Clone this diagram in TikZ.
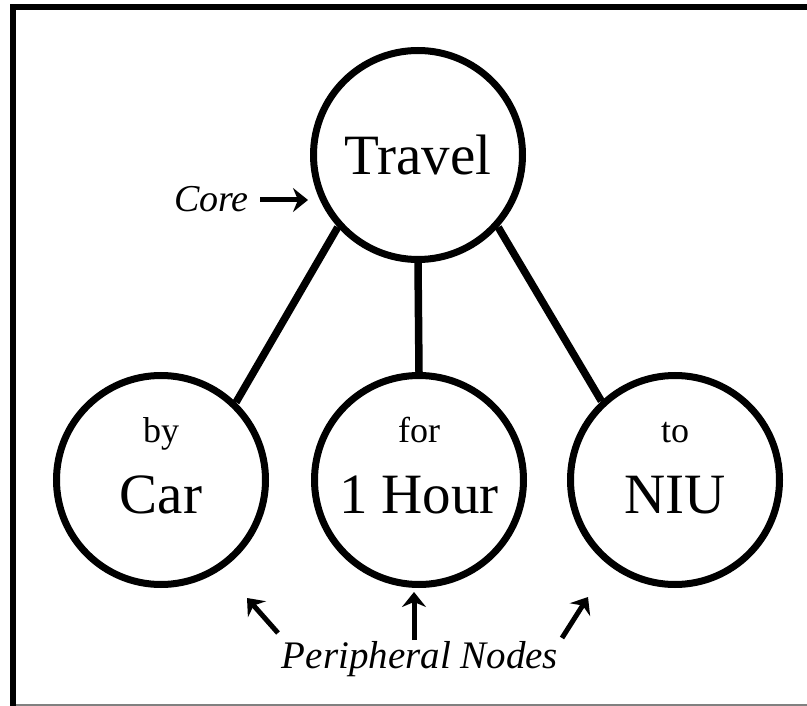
\documentclass[tikz,border=0pt]{standalone}
\usepackage{fontspec}
\setmainfont{Liberation Serif}
\usetikzlibrary{arrows.meta}
\begin{document}
\begin{tikzpicture}[x=1pt,y=-1pt,
  concept/.style={circle,draw,line width=7pt,minimum size=209pt,inner sep=0pt},
  link/.style={line width=7.5pt},
  pointer/.style={line width=5pt,-{Stealth[length=15pt,width=24pt,inset=5pt]}},
  bigword/.style={font=\fontsize{57}{60}\selectfont,anchor=base,inner sep=0pt},
  smallword/.style={font=\fontsize{36}{40}\selectfont,anchor=base,inner sep=0pt},
  note/.style={font=\itshape\fontsize{38}{42}\selectfont,anchor=base,inner sep=0pt}]
\useasboundingbox (0,0) rectangle (807,706);
% frame: heavy top and left rules, thin bottom rule
\fill[black] (10,4) rectangle (807,10);
\fill[black] (10,4) rectangle (16,706);
\draw[gray,line width=1.5pt] (16,705) -- (807,705);

% concept circles
\node[concept] (travel) at (418,155) {};
\node[concept] (car) at (161,480) {};
\node[concept] (hour) at (419,480) {};
\node[concept] (niu) at (675,480) {};

% links from the core to the peripheral nodes
\draw[link] (travel.222) -- (car.46);
\draw[link] (travel.south) -- (hour.north);
\draw[link] (travel.318) -- (niu.133);

% words inside the circles
\node[bigword] (travelword) at (418,175) {Travel};
\node[smallword] (byword) at (161,442) {by};
\node[bigword] (carword) at (161,513) {Car};
\node[smallword] (forword) at (419,442) {for};
\node[bigword] (hourword) at (419,513) {1 Hour};
\node[smallword] (toword) at (675,442) {to};
\node[bigword] (niuword) at (675,513) {NIU};

% annotations
\node[note,anchor=base east] (core) at (249,212) {Core};
\coordinate (coretail) at (260,200);
\coordinate (coretip) at (308,200);
\draw[pointer] (coretail) -- (coretip);

\node[note,font=\itshape\fontsize{39}{42}\selectfont] (periph) at (420,668) {Peripheral Nodes};
\coordinate (ltail) at (278,633);
\coordinate (ltip) at (247,598);
\coordinate (mtail) at (414,640);
\coordinate (mtip) at (414,592);
\coordinate (rtail) at (562,638);
\coordinate (rtip) at (588,597);
\draw[pointer] (ltail) -- (ltip);
\draw[pointer] (mtail) -- (mtip);
\draw[pointer] (rtail) -- (rtip);
\end{tikzpicture}
\end{document}
